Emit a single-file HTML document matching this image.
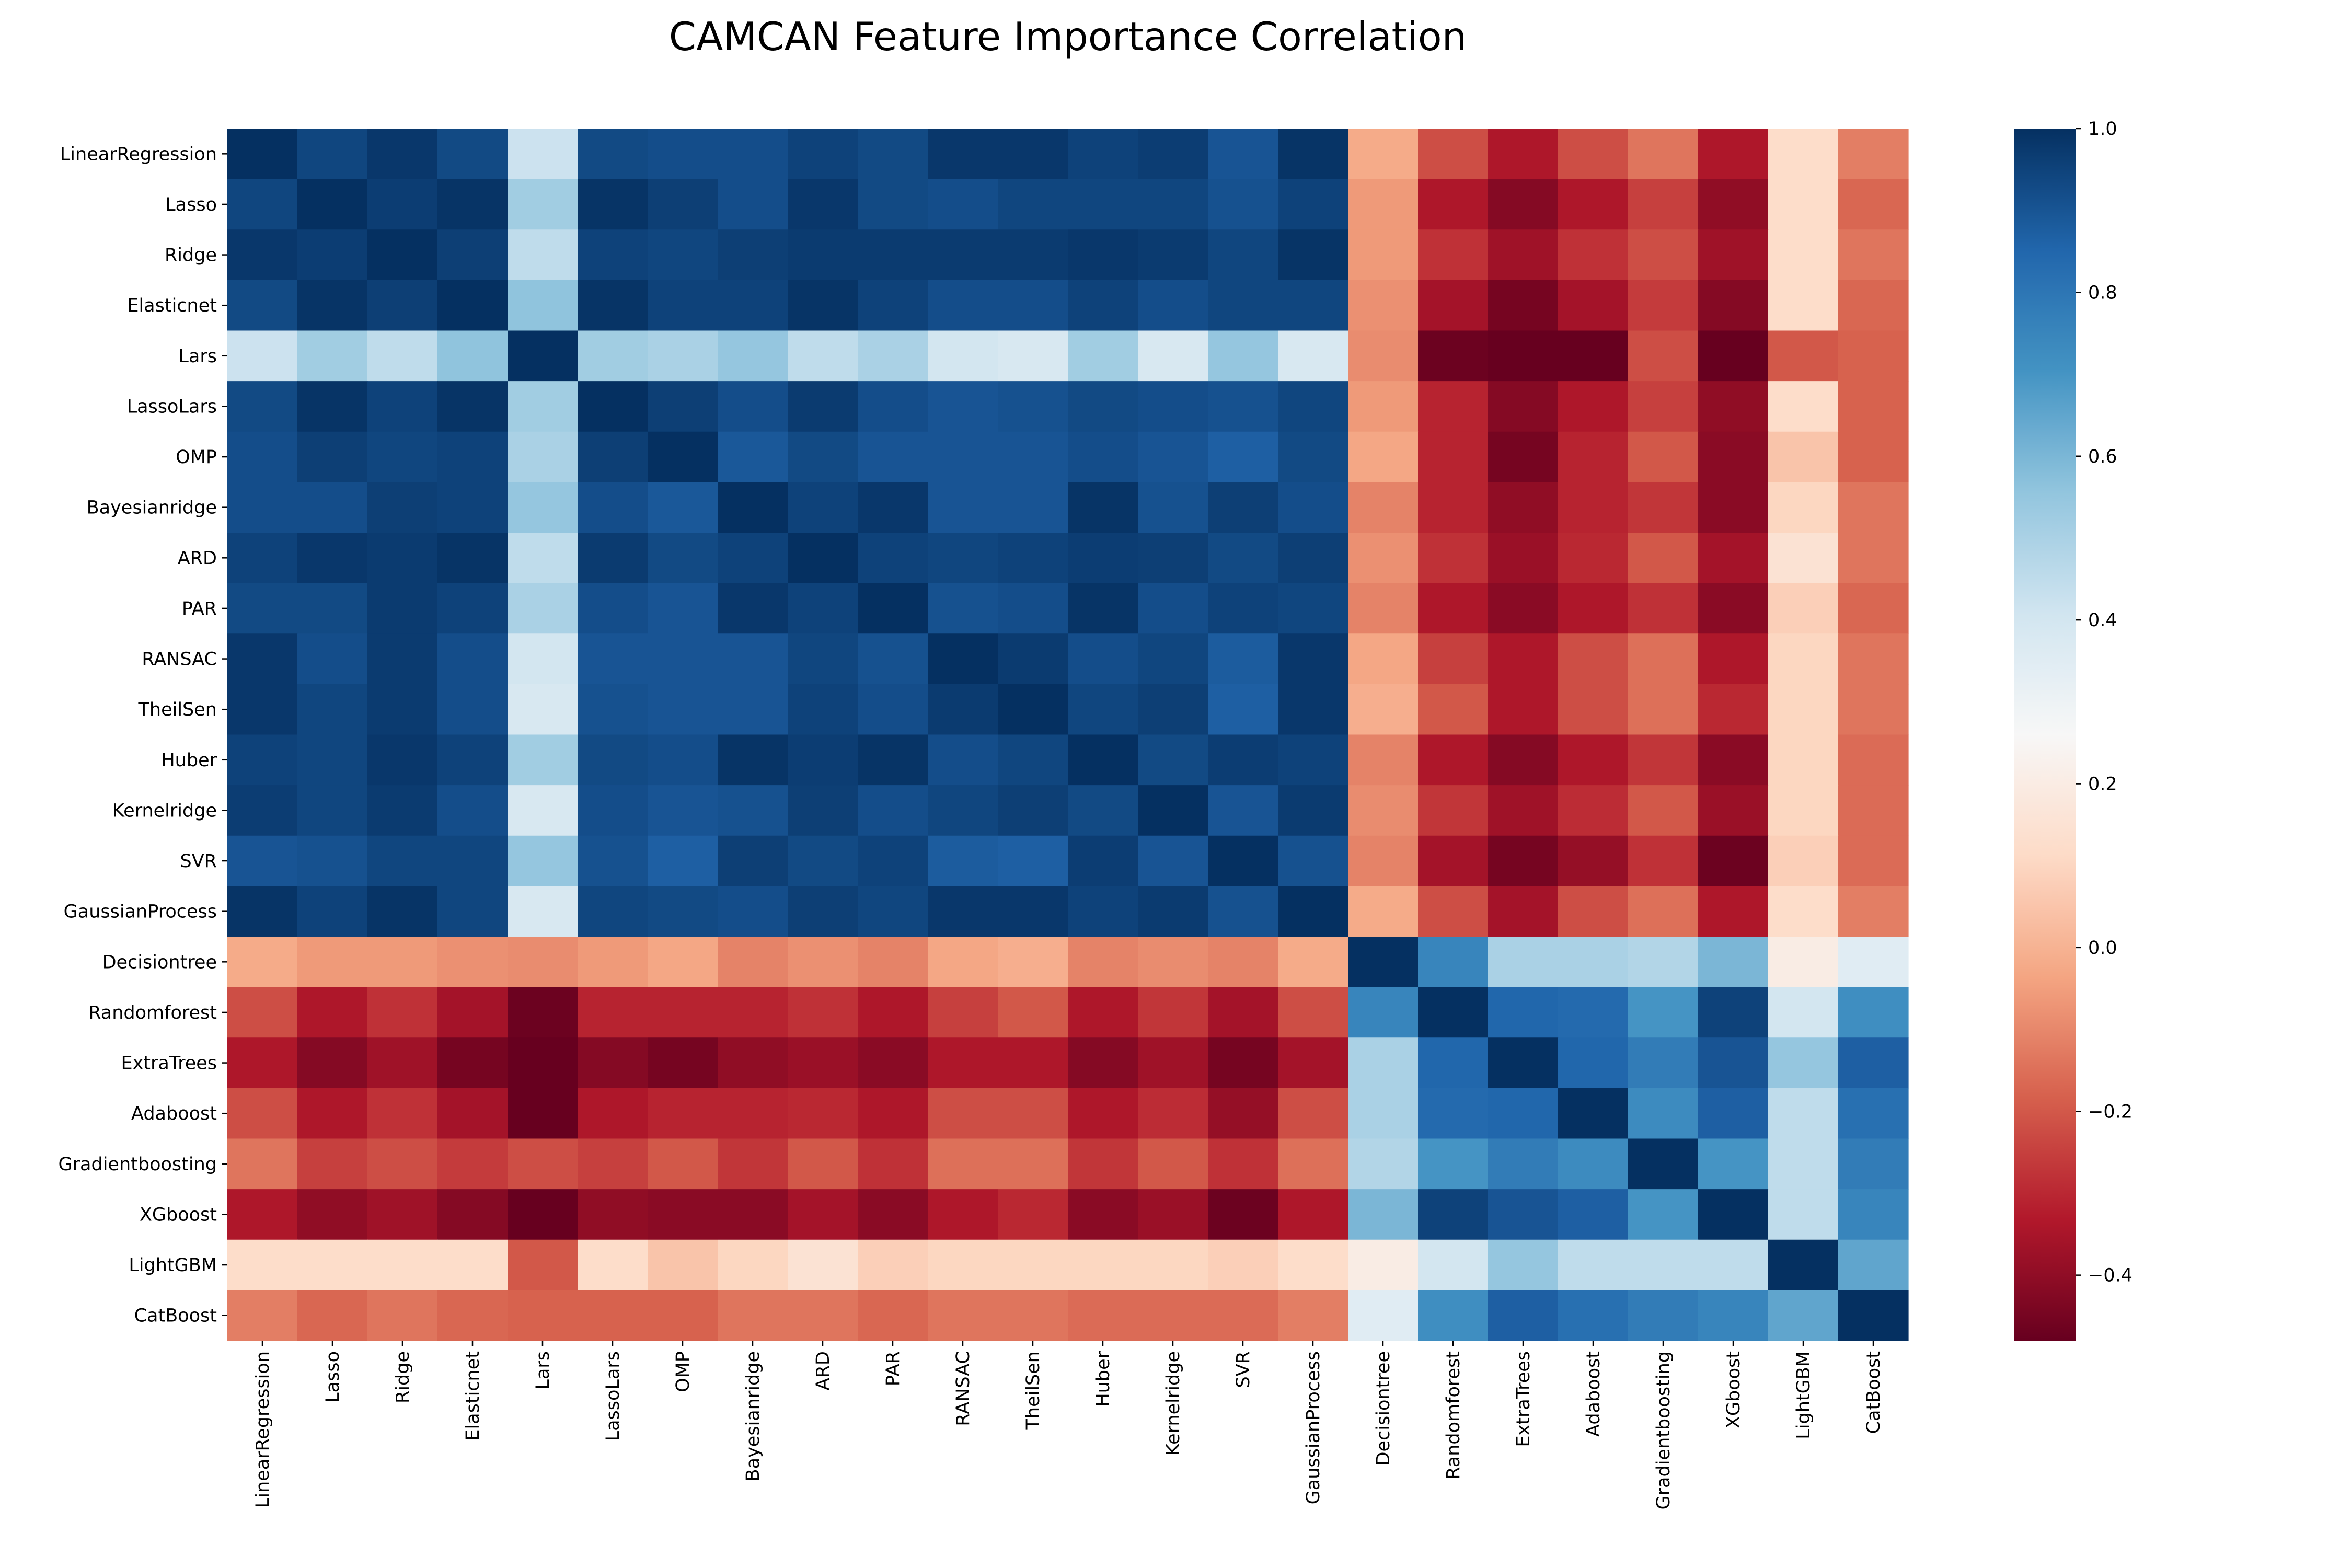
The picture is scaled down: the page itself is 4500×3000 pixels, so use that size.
<!DOCTYPE html>
<html><head><meta charset="utf-8"><style>
html,body{margin:0;padding:0;background:#fff;}
svg{display:block;font-family:"DejaVu Sans","Liberation Sans",sans-serif;}
</style></head><body>
<svg id="chart" width="4500" height="3000" viewBox="0 0 4500 3000" xmlns="http://www.w3.org/2000/svg">
<text x="2043" y="96" font-size="75" text-anchor="middle">CAMCAN Feature Importance Correlation</text>
<g id="cells"></g>
<g id="ylabels"></g>
<g id="xlabels"></g>
<defs><linearGradient id="cbg" x1="0" y1="1" x2="0" y2="0"></linearGradient></defs>
<rect x="3854" y="246" width="117" height="2319" fill="url(#cbg)"/>
<g id="cbticks"></g>
</svg>
<script>
const labels = ["LinearRegression","Lasso","Ridge","Elasticnet","Lars","LassoLars","OMP","Bayesianridge","ARD","PAR","RANSAC","TheilSen","Huber","Kernelridge","SVR","GaussianProcess","Decisiontree","Randomforest","ExtraTrees","Adaboost","Gradientboosting","XGboost","LightGBM","CatBoost"];
const corr = [
[1,.94,.98,.93,.42,.93,.92,.92,.95,.93,.98,.98,.95,.965,.9,.99,-.02,-.22,-.34,-.22,-.14,-.34,.12,-.12],
[.94,1,.965,.99,.52,.99,.96,.92,.98,.93,.92,.94,.94,.94,.91,.95,-.06,-.34,-.42,-.34,-.25,-.4,.12,-.17],
[.98,.965,1,.96,.45,.95,.94,.96,.97,.97,.97,.97,.98,.97,.94,.99,-.06,-.28,-.37,-.28,-.22,-.37,.12,-.14],
[.93,.99,.96,1,.56,.99,.95,.95,.99,.95,.92,.92,.95,.92,.94,.94,-.08,-.36,-.45,-.36,-.26,-.42,.12,-.17],
[.42,.52,.45,.56,1,.52,.5,.55,.45,.5,.4,.38,.52,.38,.55,.38,-.09,-.47,-.48,-.48,-.22,-.48,-.2,-.18],
[.93,.99,.95,.99,.52,1,.96,.92,.97,.92,.9,.91,.93,.92,.91,.94,-.06,-.31,-.42,-.34,-.25,-.4,.12,-.18],
[.92,.96,.94,.95,.5,.96,1,.89,.93,.9,.9,.9,.92,.9,.87,.93,-.03,-.31,-.45,-.31,-.2,-.41,.05,-.18],
[.92,.92,.96,.95,.55,.92,.89,1,.95,.98,.9,.9,.99,.91,.96,.92,-.11,-.31,-.4,-.31,-.27,-.41,.1,-.14],
[.95,.98,.97,.99,.45,.97,.93,.95,1,.95,.94,.95,.965,.96,.93,.96,-.08,-.28,-.38,-.3,-.2,-.36,.15,-.14],
[.93,.93,.97,.95,.5,.92,.9,.98,.95,1,.91,.92,.99,.92,.95,.94,-.11,-.34,-.41,-.34,-.28,-.41,.08,-.17],
[.98,.92,.97,.92,.4,.9,.9,.9,.94,.91,1,.97,.92,.94,.88,.98,-.03,-.25,-.34,-.22,-.15,-.34,.1,-.14],
[.98,.94,.97,.92,.38,.91,.9,.9,.95,.92,.97,1,.94,.96,.87,.98,-.01,-.2,-.34,-.22,-.15,-.3,.1,-.14],
[.95,.94,.98,.95,.52,.93,.92,.99,.965,.99,.92,.94,1,.93,.965,.95,-.11,-.34,-.42,-.34,-.27,-.41,.1,-.16],
[.965,.94,.97,.92,.38,.92,.9,.91,.96,.92,.94,.96,.93,1,.9,.97,-.09,-.27,-.37,-.29,-.2,-.38,.1,-.16],
[.9,.91,.94,.94,.55,.91,.87,.96,.93,.95,.88,.87,.965,.9,1,.91,-.11,-.36,-.45,-.39,-.28,-.47,.08,-.16],
[.99,.95,.99,.94,.38,.94,.93,.92,.96,.94,.98,.98,.95,.97,.91,1,-.02,-.22,-.36,-.22,-.15,-.34,.12,-.12],
[-.02,-.06,-.06,-.08,-.09,-.06,-.03,-.11,-.08,-.11,-.03,-.01,-.11,-.09,-.11,-.02,1,.75,.5,.5,.48,.6,.2,.35],
[-.22,-.34,-.28,-.36,-.47,-.31,-.31,-.31,-.28,-.34,-.25,-.2,-.34,-.27,-.36,-.22,.75,1,.85,.84,.7,.95,.4,.72],
[-.34,-.42,-.37,-.45,-.48,-.42,-.45,-.4,-.38,-.41,-.34,-.34,-.42,-.37,-.45,-.36,.5,.85,1,.85,.78,.9,.55,.87],
[-.22,-.34,-.28,-.36,-.48,-.34,-.31,-.31,-.3,-.34,-.22,-.22,-.34,-.29,-.39,-.22,.5,.84,.85,1,.73,.87,.45,.82],
[-.14,-.25,-.22,-.26,-.22,-.25,-.2,-.27,-.2,-.28,-.15,-.15,-.27,-.2,-.28,-.15,.48,.7,.78,.73,1,.7,.45,.78],
[-.34,-.4,-.37,-.42,-.48,-.4,-.41,-.41,-.36,-.41,-.34,-.3,-.41,-.38,-.47,-.34,.6,.95,.9,.87,.7,1,.45,.75],
[.12,.12,.12,.12,-.2,.12,.05,.1,.15,.08,.1,.1,.1,.1,.08,.12,.2,.4,.55,.45,.45,.45,1,.65],
[-.12,-.17,-.14,-.17,-.18,-.18,-.18,-.14,-.14,-.17,-.14,-.14,-.16,-.16,-.16,-.12,.35,.72,.87,.82,.78,.75,.65,1]
];
const cbTicks = [1.0,0.8,0.6,0.4,0.2,0.0,-0.2,-0.4];
const VMIN=-0.48, VMAX=1.0;
const L=435, T=246, W=3216, H=2319;
const stops=["#67001f","#b2182b","#d6604d","#f4a582","#fddbc7","#f7f7f7","#d1e5f0","#92c5de","#4393c3","#2166ac","#053061"];
function hex(h){return [1,3,5].map(i=>parseInt(h.substr(i,2),16));}
function color(v){
  let t=(v-VMIN)/(VMAX-VMIN); t=Math.max(0,Math.min(1,t));
  const p=t*10, i=Math.min(9,Math.floor(p)), f=p-i;
  const a=hex(stops[i]), b=hex(stops[i+1]);
  return "rgb("+a.map((c,k)=>Math.round(c+(b[k]-c)*f)).join(",")+")";
}
const NS="http://www.w3.org/2000/svg";
const n=labels.length, cw=W/n, ch=H/n;
const xPos=j=>L+j*cw, yPos=i=>T+i*ch;
const yScale=v=>T+H-(v-VMIN)/(VMAX-VMIN)*H;
const cells=document.getElementById("cells");
corr.forEach((row,i)=>row.forEach((v,j)=>{
  const r=document.createElementNS(NS,"rect");
  r.setAttribute("x",xPos(j));r.setAttribute("y",yPos(i));
  r.setAttribute("width",cw+0.6);r.setAttribute("height",ch+0.6);
  r.setAttribute("fill",color(v));
  
  
  cells.appendChild(r);
}));
const yl=document.getElementById("ylabels"), xl=document.getElementById("xlabels");
labels.forEach((lab,i)=>{
  const cy=yPos(i)+ch/2;
  const tk=document.createElementNS(NS,"line");
  tk.setAttribute("x1",L-11);tk.setAttribute("x2",L);tk.setAttribute("y1",cy);tk.setAttribute("y2",cy);
  tk.setAttribute("stroke","#000");tk.setAttribute("stroke-width","2.5");
  
  
  yl.appendChild(tk);
  const t=document.createElementNS(NS,"text");
  t.setAttribute("x",L-20);t.setAttribute("y",cy+12);t.setAttribute("font-size","35");t.setAttribute("text-anchor","end");
  t.textContent=lab;
  
  
  yl.appendChild(t);
  const cx=xPos(i)+cw/2;
  const tk2=document.createElementNS(NS,"line");
  tk2.setAttribute("x1",cx);tk2.setAttribute("x2",cx);tk2.setAttribute("y1",T+H);tk2.setAttribute("y2",T+H+11);
  tk2.setAttribute("stroke","#000");tk2.setAttribute("stroke-width","2.5");
  
  
  xl.appendChild(tk2);
  const t2=document.createElementNS(NS,"text");
  t2.setAttribute("transform","translate("+(cx+12)+","+(T+H+20)+") rotate(-90)");
  t2.setAttribute("font-size","35");t2.setAttribute("text-anchor","end");
  t2.textContent=lab;
  
  
  xl.appendChild(t2);
});
const grad=document.getElementById("cbg");
for(let k=0;k<=40;k++){
  const s=document.createElementNS(NS,"stop");
  s.setAttribute("offset",k/40);
  s.setAttribute("stop-color",color(VMIN+(VMAX-VMIN)*k/40));
  grad.appendChild(s);
}
const cb=document.getElementById("cbticks");
cbTicks.forEach(v=>{
  const y=yScale(v);
  const tk=document.createElementNS(NS,"line");
  tk.setAttribute("x1",3971);tk.setAttribute("x2",3982);tk.setAttribute("y1",y);tk.setAttribute("y2",y);
  tk.setAttribute("stroke","#000");tk.setAttribute("stroke-width","2.5");
  
  
  cb.appendChild(tk);
  const t=document.createElementNS(NS,"text");
  t.setAttribute("x",3995);t.setAttribute("y",y+12);t.setAttribute("font-size","35");
  t.textContent=(v<0?"\u2212":"")+Math.abs(v).toFixed(1);
  
  
  cb.appendChild(t);
});
</script>
</body></html>
